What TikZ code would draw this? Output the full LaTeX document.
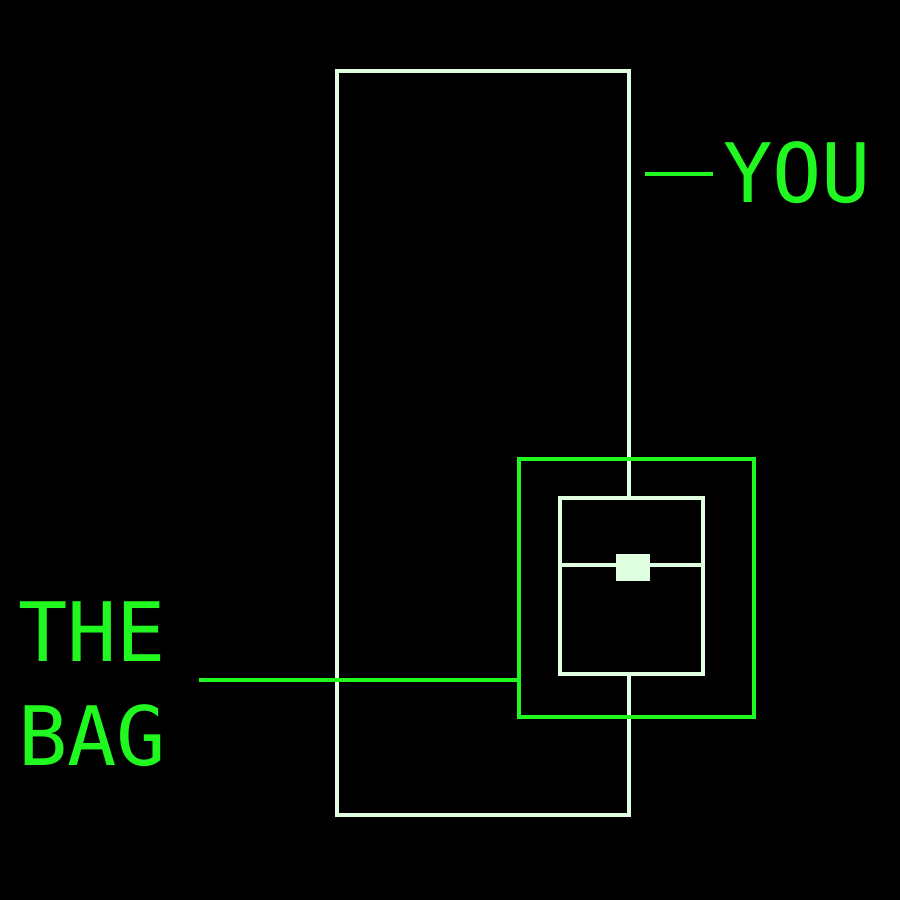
\documentclass[tikz,border=0pt]{standalone}
\usepackage{fontspec}
\newfontfamily\pix{DejaVu Sans Mono}
\definecolor{pale}{HTML}{E0FFE0}
\definecolor{lime}{HTML}{20F820}
\begin{document}
\begin{tikzpicture}[x=1pt,y=-1pt,
  palebox/.style={draw=pale,line width=3.5pt,inner sep=0pt,outer sep=0pt},
  limebox/.style={draw=lime,line width=4pt,inner sep=0pt,outer sep=0pt},
  lbl/.style={text=lime,font=\pix\fontsize{82}{82}\selectfont,inner sep=0pt,anchor=base west},
  wire/.style={draw=lime,line width=4pt}]
\fill[black] (0,0) rectangle (900,900);
\useasboundingbox (0,0) rectangle (900,900);
% tall rectangle (you)
\node[palebox,minimum width=292pt,minimum height=744pt] (tall) at (483,443) {};
% inner white box
\node[palebox,fill=black,minimum width=143pt,minimum height=176pt] (inner) at (631.5,586) {};
\coordinate (mL) at (560,565);
\coordinate (mR) at (703,565);
\draw[pale,line width=3.5pt] (mL) -- (mR);
\node[fill=pale,inner sep=0pt,minimum width=34pt,minimum height=27pt] (lock) at (633,567.5) {};
% green bag
\node[limebox,minimum width=235pt,minimum height=258pt] (bag) at (636.5,588) {};
% labels
\node[lbl] (you) at (723,202) {YOU};
\node[lbl] (the) at (18,661) {THE};
\node[lbl] (bagt) at (18,765) {BAG};
\coordinate (youS) at (645,174);
\coordinate (youE) at (713,174);
\draw[wire] (youS) -- (youE);
\coordinate (bagS) at (199,680);
\draw[wire] (bagS) -- (bag.west |- bagS);
\end{tikzpicture}
\end{document}
